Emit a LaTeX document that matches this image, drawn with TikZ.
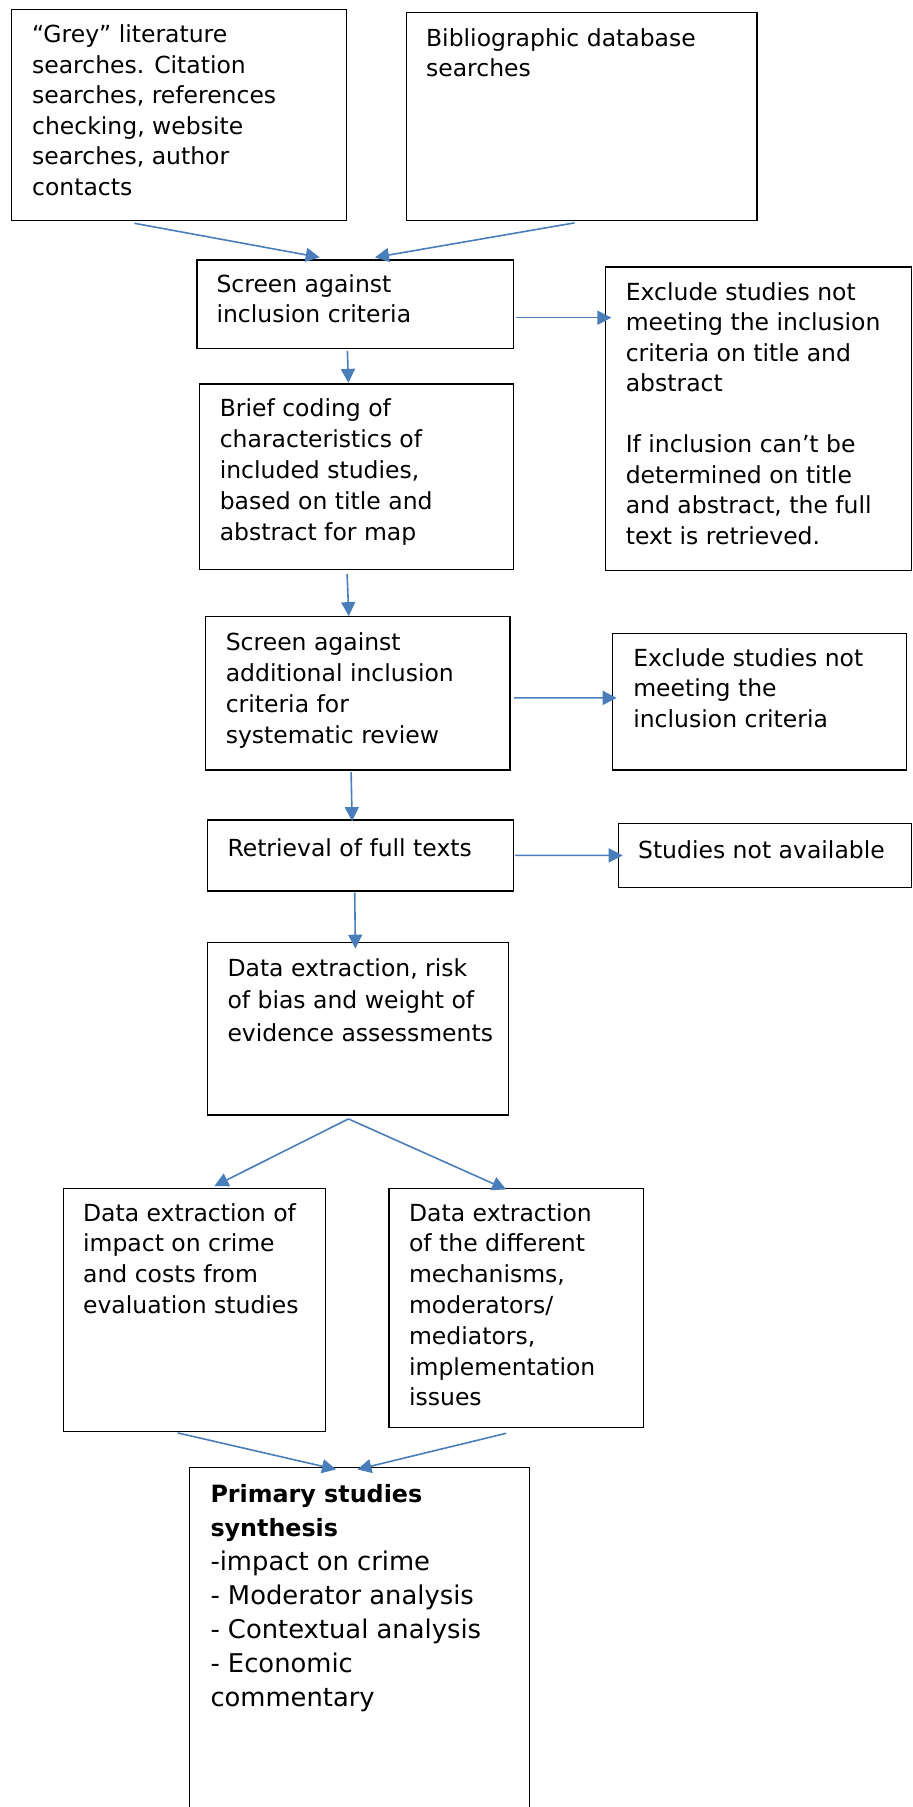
\documentclass[tikz,border=0pt]{standalone}
\usepackage{fontspec}
\setmainfont{DejaVu Sans}
\usetikzlibrary{arrows.meta,calc,fit}
\definecolor{arrowblue}{HTML}{4A7EBB}
\newcommand\boxlines[2]{\fontsize{11.75}{#1}\selectfont\begin{tabular}[t]{@{}l@{}}#2\end{tabular}}
\begin{document}
\begin{tikzpicture}[x=0.5pt,y=-0.5pt,
  box/.style={draw=black, line width=0.6pt, inner sep=0pt},
  txt/.style={inner sep=0pt, anchor=base west, text=black},
  arrow/.style={draw=arrowblue, line width=0.8pt, -{Triangle[length=7pt,width=7pt]}}]
\useasboundingbox (0,0) rectangle (913,1807);
\clip (0,0) rectangle (913,1807);
\fill[white] (0,0) rectangle (913,1807);

% boxes
\node[box, fit={(11.6,9.3) (346.5,220.7)}] (b1) {};
\node[box, fit={(406.5,12.7) (757,220.7)}] (b2) {};
\node[box, fit={(197,260) (513.7,348.7)}] (b3) {};
\node[box, fit={(605.7,267) (911.7,570.7)}] (b4) {};
\node[box, fit={(199.8,384) (513.7,569.3)}] (b5) {};
\node[box, fit={(205.7,616.7) (510,770)}] (b6) {};
\node[box, fit={(612.7,633.3) (906.7,770)}] (b7) {};
\node[box, fit={(207.3,820) (513.3,891)}] (b8) {};
\node[box, fit={(618.3,823.3) (911.7,887.3)}] (b9) {};
\node[box, fit={(207.3,942.7) (508.3,1115)}] (b10) {};
\node[box, fit={(63.3,1188.3) (325.3,1431.7)}] (b11) {};
\node[box, fit={(389,1188.3) (643.3,1427.7)}] (b12) {};
\node[box, fit={(189.8,1467.3) (529.4,1840)}] (b13) {};

% texts
\node[txt] (t1) at ($(b1.north west)+(20.7,34)$) {\boxlines{15.25pt}{“Grey” literature\\searches. Citation\\searches, references\\checking, website\\searches, author\\contacts}};
\node[txt] (t2) at ($(b2.north west)+(19.8,34)$) {\boxlines{15.3pt}{Bibliographic database\\searches}};
\node[txt] (t3) at ($(b3.north west)+(19.7,33.3)$) {\boxlines{15pt}{Screen against\\inclusion criteria}};
\node[txt] (t4) at ($(b4.north west)+(20.3,33.7)$) {\boxlines{15.25pt}{Exclude studies not\\meeting the inclusion\\criteria on title and\\abstract\\ \\If inclusion can’t be\\determined on title\\and abstract, the full\\text is retrieved.}};
\node[txt] (t5) at ($(b5.north west)+(20.2,33.3)$) {\boxlines{15.5pt}{Brief coding of\\characteristics of\\included studies,\\based on title and\\abstract for map}};
\node[txt] (t6) at ($(b6.north west)+(20.3,34.3)$) {\boxlines{15.5pt}{Screen against\\additional inclusion\\criteria for\\systematic review}};
\node[txt] (t7) at ($(b7.north west)+(20.8,33.4)$) {\boxlines{15.4pt}{Exclude studies not\\meeting the\\inclusion criteria}};
\node[txt] (t8) at ($(b8.north west)+(20.4,36.7)$) {\boxlines{15.4pt}{Retrieval of full texts}};
\node[txt] (t9) at ($(b9.north west)+(20,36.2)$) {\boxlines{15.4pt}{Studies not available}};
\node[txt] (t10) at ($(b10.north west)+(20.4,34)$) {\boxlines{16.25pt}{Data extraction, risk\\of bias and weight of\\evidence assessments}};
\node[txt] (t11) at ($(b11.north west)+(20,33.4)$) {\boxlines{15.4pt}{Data extraction of\\impact on crime\\and costs from\\evaluation studies}};
\node[txt] (t12) at ($(b12.north west)+(20.3,33.4)$) {\boxlines{15.4pt}{Data extraction\\of the different\\mechanisms,\\moderators/\\mediators,\\implementation\\issues}};
\node[txt] (t13) at ($(b13.north west)+(20.9,36)$) {\fontsize{12.9}{16.95pt}\selectfont\begin{tabular}[t]{@{}l@{}}{\fontsize{11.9}{16.95pt}\selectfont\bfseries Primary studies}\\{\fontsize{11.9}{16.95pt}\selectfont\bfseries synthesis}\\-impact on crime\\- Moderator analysis\\- Contextual analysis\\- Economic\\commentary\end{tabular}};

% connectors
\draw[arrow] ($(b1.south west)+(123.4,2)$) -- ($(b3.north west)+(123.3,-2)$);
\draw[arrow] ($(b2.south west)+(168.5,1.6)$) -- ($(b3.north west)+(178.6,-2)$);
\draw[arrow] ($(b3.north east)+(1.3,58.3)$) -- ($(b4.north west)+(6.3,51.3)$);
\draw[arrow] ($(b3.south west)+(151,1.8)$) -- ($(b5.north west)+(149.2,-0.5)$);
\draw[arrow] ($(b5.south west)+(147.9,4)$) -- ($(b6.north west)+(143.7,0)$);
\draw[arrow] ($(b6.north east)+(3.6,81.8)$) -- ($(b7.north west)+(4.6,65.2)$);
\draw[arrow] ($(b6.south west)+(146,1.5)$) -- ($(b8.north west)+(145.4,1.7)$);
\draw[arrow] ($(b8.north east)+(1.2,36)$) -- ($(b9.north west)+(5,32.7)$);
\draw[arrow] ($(b8.south west)+(148,1)$) -- ($(b10.north west)+(148.7,6.6)$);
\coordinate (split) at ($(b10.south west)+(141.7,3.3)$);
\draw[arrow] (split) -- ($(b11.north west)+(151.7,-1.6)$);
\draw[arrow] (split) -- ($(b12.north west)+(117.7,1.7)$);
\draw[arrow] ($(b11.south west)+(115,0.6)$) -- ($(b13.north west)+(146.8,2.7)$);
\draw[arrow] ($(b12.south west)+(117.7,5)$) -- ($(b13.north west)+(168.2,2.7)$);
\end{tikzpicture}
\end{document}
